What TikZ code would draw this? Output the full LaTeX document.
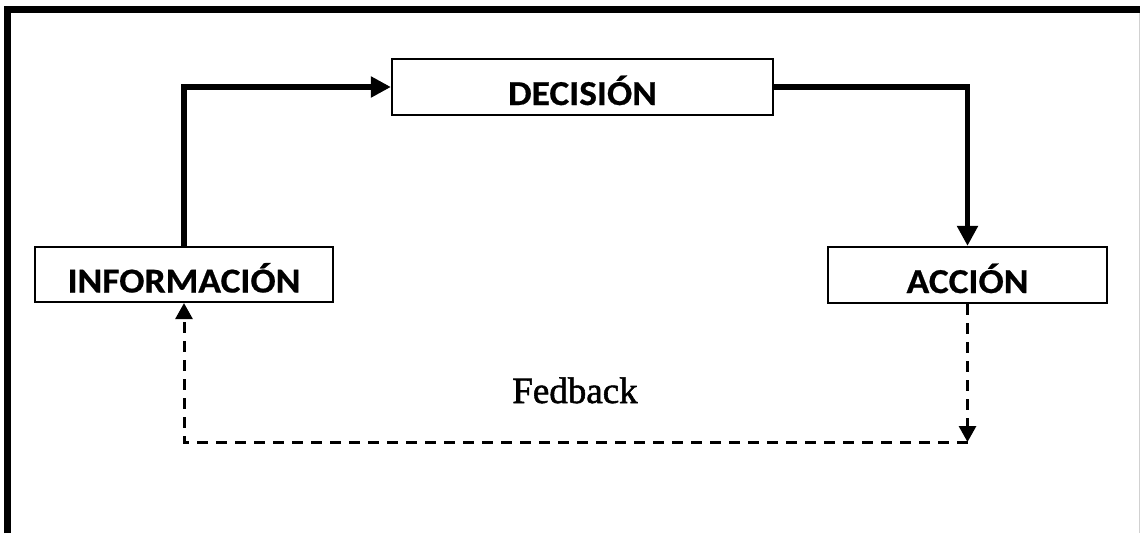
\documentclass[tikz,border=0pt]{standalone}
\usepackage{fontspec}
\setmainfont{Liberation Serif}
\newfontfamily\labelfont[FakeStretch=1.07,FakeBold=0.6]{Carlito}
\newfontfamily\fbfont[FakeBold=1.5]{Liberation Serif}
\usetikzlibrary{arrows.meta}
\begin{document}
\begin{tikzpicture}[x=1pt,y=-1pt,
  stagebox/.style={draw,line width=2.2pt,inner sep=0pt,text height=36pt,text depth=0pt,
    font=\labelfont\bfseries\fontsize{35}{35}\selectfont},
  flow/.style={line width=5.5pt,-{Triangle[length=20pt,width=20pt]}},
  loopback/.style={line width=3pt,dash pattern=on 11pt off 8pt,-{Triangle[length=16pt,width=17pt]}}]
\useasboundingbox (0,0) rectangle (1140,533);
% frame: heavy top and left edges, faint right edge
\draw[line width=7.5pt] (7.5,533) -- (7.5,9.5) -- (1140,9.5);
\draw[line width=1pt,black!18] (1139,13) -- (1139,533);
% stages
\node[stagebox,minimum width=381pt,minimum height=56pt] (dec) at (582.5,87) {DECISIÓN};
\node[stagebox,minimum width=298pt,minimum height=55pt] (inf) at (184,274.5) {INFORMACIÓN};
\node[stagebox,minimum width=279pt,minimum height=56pt] (acc) at (967.5,275) {ACCIÓN};
% main cycle
\draw[flow] (inf.north) |- (dec.west);
\draw[flow] (dec.east) -| (acc.north);
% feedback loop
\coordinate (fr) at (acc.south |- 0,442);
\coordinate (fl) at (inf.south |- 0,442);
\draw[loopback] (acc.south) -- (fr);
\draw[loopback] (fr) -- (fl) -- (inf.south);
\node[font=\fbfont\fontsize{37}{37}\selectfont,anchor=base] (fb) at (575,403) {Fedback};
\end{tikzpicture}
\end{document}
